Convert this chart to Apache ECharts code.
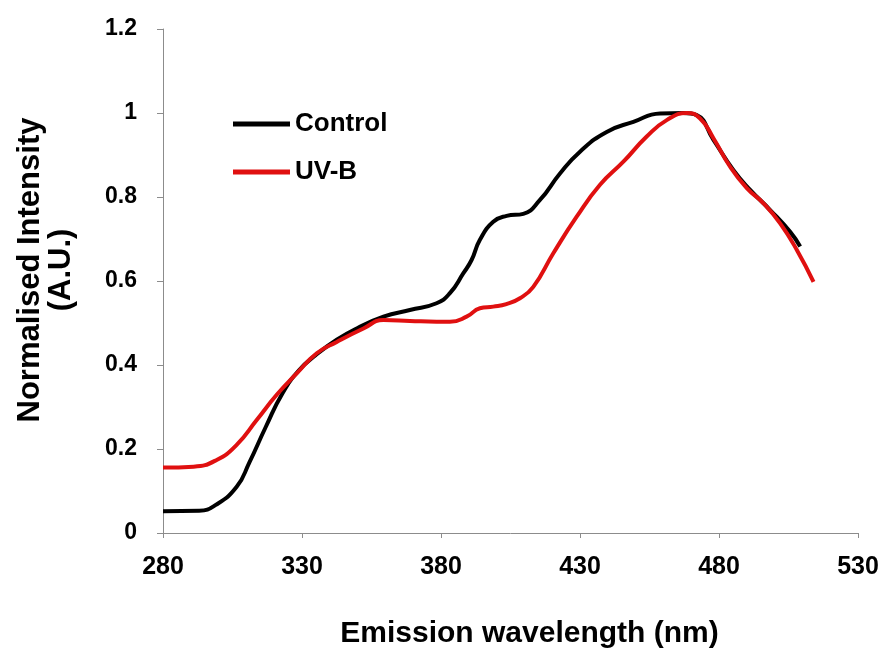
<!DOCTYPE html>
<html><head><meta charset="utf-8">
<script src="https://cdn.jsdelivr.net/npm/echarts@6/dist/echarts.min.js"></script>
<style>html,body{margin:0;padding:0;background:#fff}#c{width:879px;height:648px}</style>
</head><body><div id="c"></div>
<script>
const controlX = [280,293,299,306.5,311,317,323,329,335,342.5,349.7,359.3,368.8,378.4,383.2,388,391,394,398.8,403.6,409.6,415.6,422.8,430,439.6,449.2,458.8,467.2,472,478,485.2,491.2,498.4,505.6,509.2];
const controlY = [0.052,0.053,0.067,0.11,0.167,0.253,0.333,0.388,0.424,0.46,0.487,0.515,0.531,0.547,0.571,0.618,0.65,0.698,0.741,0.755,0.76,0.793,0.856,0.908,0.955,0.979,0.999,1.0,0.995,0.936,0.864,0.817,0.769,0.717,0.682];
const uvbX = [280,291,299.3,306.5,313.7,320.9,328.1,335.3,342.5,352.1,359.3,368.8,378.4,383.2,389.2,394,398.8,403.5,408.4,413.2,420.4,428.8,437.2,445.6,454,461.2,468.4,473.2,478,484,490,496,502,508,514];
const uvbY = [0.156,0.158,0.174,0.21,0.269,0.329,0.38,0.428,0.455,0.487,0.507,0.505,0.503,0.503,0.515,0.535,0.539,0.545,0.559,0.586,0.666,0.753,0.829,0.884,0.944,0.983,1.0,0.987,0.94,0.872,0.821,0.785,0.737,0.674,0.598];
const xTicks = [280,330,380,430,480,530];
const yTicks = [0,0.2,0.4,0.6,0.8,1,1.2];
const seriesNames = ['Control','UV-B'];

const FONT = "'Liberation Sans',Arial,sans-serif";
const chart = echarts.init(document.getElementById('c'), null, {renderer:'canvas'});
const zip = (xs, ys) => xs.map((x,i)=>[x, ys[i]]);
chart.setOption({
  animation:false,
  backgroundColor:'#fff',
  grid:{left:163, right:21, top:29, bottom:115, containLabel:false, outerBoundsMode:'none'},
  legend:{
    orient:'vertical', left:228, top:106, itemWidth:57, itemHeight:5, itemGap:22,
    icon:'rect',
    data:seriesNames,
    textStyle:{fontFamily:FONT, fontWeight:'bold', fontSize:26, color:'#000', lineHeight:26}
  },
  xAxis:{
    type:'value', min:280, max:530, interval:50,
    name:'Emission wavelength (nm)', nameLocation:'middle', nameGap:86,
    nameTextStyle:{fontFamily:FONT, fontWeight:'bold', fontSize:30, color:'#000', padding:[0,0,0,38]},
    axisLine:{lineStyle:{color:'#8c8c8c', width:1}},
    axisTick:{show:true, length:5, lineStyle:{color:'#8c8c8c'}},
    axisLabel:{fontFamily:FONT, fontWeight:'bold', fontSize:25, color:'#000', margin:22,
      formatter:v=>xTicks.includes(v)?String(v):''},
    splitLine:{show:false}
  },
  yAxis:{
    type:'value', min:0, max:1.2, interval:0.2,
    name:'Normalised Intensity\n(A.U.)', nameLocation:'middle', nameGap:86, nameRotate:90,
    nameTextStyle:{fontFamily:FONT, fontWeight:'bold', fontSize:31, color:'#000', lineHeight:31, align:'center', padding:[0,0,0,22]},
    axisLine:{show:true, lineStyle:{color:'#8c8c8c', width:1}},
    axisTick:{show:true, length:6, lineStyle:{color:'#8c8c8c'}},
    axisLabel:{fontFamily:FONT, fontWeight:'bold', fontSize:23, color:'#000', margin:26,
      formatter:v=>{const t=yTicks.find(a=>Math.abs(a-v)<1e-9); return t===undefined?'':String(t);}},
    splitLine:{show:false}
  },
  series:[
    {name:seriesNames[0], type:'line', data:zip(controlX,controlY), smooth:0.5, showSymbol:false, symbol:'none',
     lineStyle:{color:'#000', width:4}, itemStyle:{color:'#000'}, z:2},
    {name:seriesNames[1], type:'line', data:zip(uvbX,uvbY), smooth:0.5, showSymbol:false, symbol:'none',
     lineStyle:{color:'#e01010', width:4}, itemStyle:{color:'#e01010'}, z:3}
  ]
});
</script></body></html>
